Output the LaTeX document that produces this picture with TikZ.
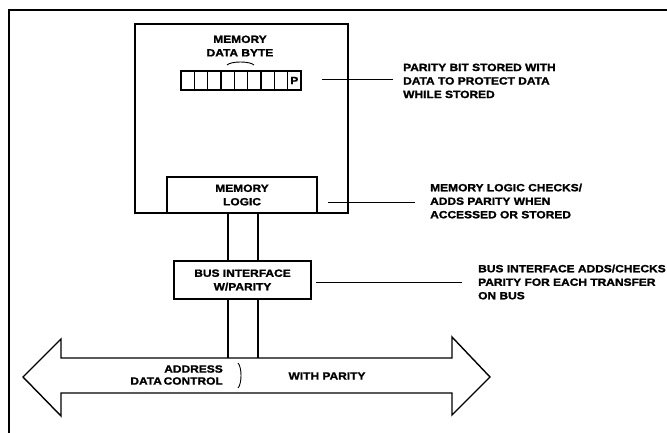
\documentclass[tikz,border=0pt]{standalone}
\usepackage{fontspec}
\setmainfont{Liberation Sans}[FakeStretch=1.14, BoldFeatures={FakeBold=1.5}]
\usetikzlibrary{calc}
\begin{document}
\begin{tikzpicture}[x=1pt,y=-1pt,
  every node/.style={font=\fontsize{10.5}{13.5}\selectfont\bfseries, inner sep=0pt},
  ln/.style={line width=1.4pt},
  thin ln/.style={line width=1pt},
  boxnode/.style={draw, line width=1.4pt, align=center},
  note/.style={align=left, anchor=north west},
  cell/.style={draw, line width=1.1pt, minimum width=13.33pt, minimum height=19pt}]
\useasboundingbox (0,0) rectangle (667,433);
% frame
\draw[line width=1.5pt] (9,433) -- (9,10) -- (667,10);
% memory box
\node[boxnode, minimum width=213pt, minimum height=189pt] (mem) at (241.5,118.5) {};
\node[align=center] (memlbl) at (240,46) {MEMORY\\DATA BYTE};
\draw[line width=0.9pt] (227,65) .. controls (231,61) and (250,61) .. (254,65);
% data byte cells
\foreach \i in {0,...,7} {
  \node[cell] (c\i) at ({187.67+13.33*\i},80.5) {};
}
\node[cell] (cp) at ({187.67+13.33*8},80.5) {P};
% memory logic
\node[boxnode, minimum width=150pt, minimum height=36pt] (logic) at (242,195) {MEMORY\\LOGIC};
% bus interface
\node[boxnode, minimum width=137pt, minimum height=38pt] (busif) at (242.5,280) {BUS INTERFACE\\W/PARITY};
% bus arrow
\draw[ln] (23,377) -- (61,339) -- (61,358) -- (452,358) -- (452,337) -- (490,377)
  -- (452,415) -- (452,393) -- (61,393) -- (61,416) -- cycle;
% connection points
\coordinate (la) at ($(logic.south)+(-14,0)$);
\coordinate (lb) at ($(logic.south)+(16,0)$);
\coordinate (ta) at ($(busif.north)+(-14.5,0)$);
\coordinate (tb) at ($(busif.north)+(15.5,0)$);
\coordinate (ba) at ($(busif.south)+(-14.5,0)$);
\coordinate (bb) at ($(busif.south)+(15.5,0)$);
\coordinate (bua) at (228,358);
\coordinate (bub) at (258,358);
\draw[ln] (la) -- (ta);
\draw[ln] (lb) -- (tb);
\draw[ln] (ba) -- (bua);
\draw[ln] (bb) -- (bub);
% bus labels
\node[align=right, anchor=east, font=\fontsize{10.5}{12}\selectfont\bfseries] (addr) at (223,375) {ADDRESS\\DATA\,CONTROL};
\draw[line width=0.9pt] (238,363) .. controls (242,367) and (242,384) .. (238,388);
\node (withpar) at (327,376) {WITH PARITY};
% notes
\node[note] (n1) at (403,63.5) {PARITY BIT STORED WITH\\DATA TO PROTECT DATA\\WHILE STORED};
\node[note] (n2) at (430,183.5) {MEMORY LOGIC CHECKS/\\ADDS PARITY WHEN\\ACCESSED OR STORED};
\node[note] (n3) at (478,264.5) {BUS INTERFACE ADDS/CHECKS\\PARITY FOR EACH TRANSFER\\ON BUS};
\coordinate (s1) at (322,80);
\coordinate (s2) at (328,202);
\coordinate (s3) at (316,282);
\coordinate (e1) at (393,80);
\coordinate (e2) at (415,202);
\coordinate (e3) at (462,282);
\draw[thin ln] (s1) -- (e1);
\draw[thin ln] (s2) -- (e2);
\draw[thin ln] (s3) -- (e3);
\end{tikzpicture}
\end{document}
